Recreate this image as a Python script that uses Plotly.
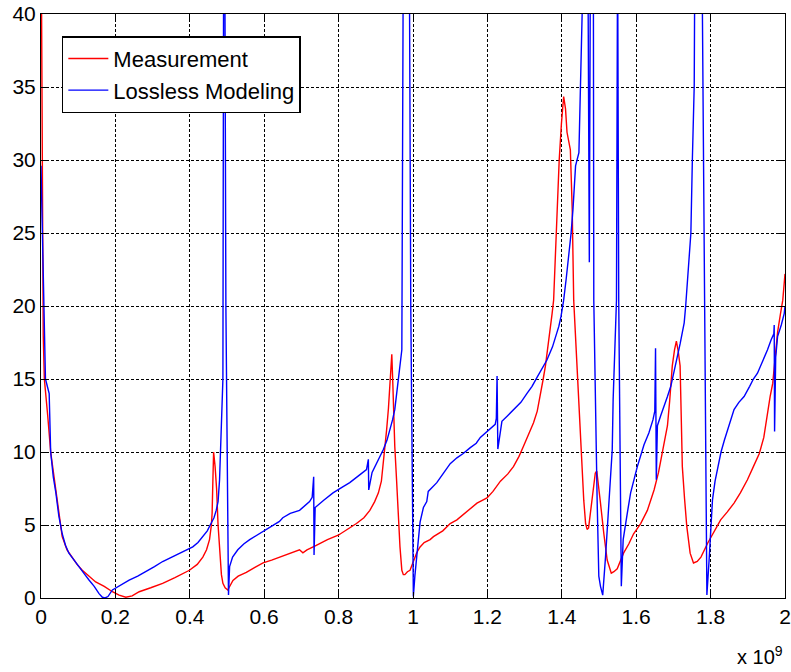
import plotly.graph_objects as go

# Frequency in units of 1e9 Hz, quantity on the y axis (dimensionless)
meas_freq = [
    0.000, 0.003, 0.006, 0.009, 0.013, 0.018, 0.026, 0.033, 0.040, 0.048,
    0.057, 0.070, 0.084, 0.097, 0.111, 0.128, 0.147, 0.170, 0.192, 0.210,
    0.228, 0.245, 0.264, 0.295, 0.327, 0.360, 0.399, 0.420, 0.435, 0.445,
    0.453, 0.458, 0.460, 0.462, 0.464, 0.468, 0.472, 0.476, 0.480, 0.485,
    0.489, 0.495, 0.502, 0.509, 0.516, 0.530, 0.552, 0.575, 0.597, 0.620,
    0.641, 0.670, 0.695, 0.704, 0.715, 0.740, 0.770, 0.799, 0.825, 0.848,
    0.868, 0.884, 0.897, 0.907, 0.915, 0.920, 0.925, 0.929, 0.934, 0.938,
    0.941, 0.943, 0.946, 0.951, 0.956, 0.960, 0.965, 0.970, 0.974, 0.978,
    0.985, 0.992, 1.000, 1.010, 1.019, 1.030, 1.046, 1.055, 1.080, 1.100,
    1.118, 1.145, 1.172, 1.199, 1.215, 1.235, 1.255, 1.270, 1.285, 1.297,
    1.310, 1.324, 1.334, 1.342, 1.350, 1.356, 1.361, 1.365, 1.369, 1.374,
    1.378, 1.383, 1.387, 1.393, 1.399, 1.405, 1.410, 1.414, 1.423, 1.428,
    1.432, 1.441, 1.450, 1.459, 1.464, 1.468, 1.472, 1.482, 1.490, 1.494,
    1.497, 1.504, 1.513, 1.522, 1.533, 1.540, 1.549, 1.566, 1.580, 1.593,
    1.612, 1.621, 1.630, 1.639, 1.648, 1.660, 1.670, 1.684, 1.690, 1.697,
    1.703, 1.708, 1.713, 1.718, 1.721, 1.724, 1.730, 1.736, 1.745, 1.754,
    1.764, 1.774, 1.792, 1.810, 1.827, 1.845, 1.863, 1.880, 1.899, 1.915,
    1.931, 1.943, 1.953, 1.960, 1.967, 1.974, 1.980, 1.988, 1.994, 2.000,
]
meas_val = [
    48.0, 30.0, 18.0, 15.0, 14.0, 12.5, 10.0, 8.6, 7.4, 5.6,
    4.2, 3.3, 2.8, 2.3, 1.9, 1.5, 1.1, 0.8, 0.43, 0.2,
    0.05, 0.15, 0.43, 0.7, 1.0, 1.4, 1.9, 2.3, 2.8, 3.3,
    4.0, 5.0, 5.8, 8.0, 10.0, 9.0, 7.5, 5.0, 3.1, 1.6,
    1.0, 0.7, 0.55, 0.9, 1.2, 1.5, 1.75, 2.1, 2.4, 2.6,
    2.8, 3.1, 3.3, 3.1, 3.3, 3.6, 4.0, 4.3, 4.7, 5.1,
    5.5, 6.0, 6.6, 7.2, 8.0, 9.2, 10.3, 11.5, 13.0, 14.5,
    16.0, 16.7, 14.5, 10.4, 8.0, 5.8, 3.5, 1.9, 1.6, 1.6,
    1.8, 1.9, 2.4, 3.1, 3.5, 3.8, 4.0, 4.2, 4.6, 5.1,
    5.35, 5.9, 6.5, 6.85, 7.3, 8.0, 8.5, 9.0, 9.7, 10.4,
    11.2, 12.0, 12.8, 13.8, 15.0, 15.9, 16.8, 17.7, 18.6, 19.5,
    20.4, 23.5, 26.6, 30.0, 32.5, 34.35, 33.5, 31.9, 30.7, 26.6,
    20.4, 15.9, 10.8, 6.7, 5.1, 4.7, 4.8, 6.7, 8.55, 8.7,
    8.1, 6.5, 4.4, 2.6, 1.7, 1.8, 2.0, 3.07, 3.7, 4.4,
    5.1, 5.6, 6.0, 6.7, 7.4, 8.6, 9.9, 11.8, 13.5, 15.9,
    17.0, 17.6, 16.9, 15.9, 12.5, 9.0, 6.8, 4.9, 3.07, 2.4,
    2.5, 2.8, 3.75, 4.6, 5.35, 5.9, 6.5, 7.2, 8.1, 9.0,
    9.9, 11.0, 12.7, 13.8, 14.7, 16.5, 18.2, 19.5, 20.4, 22.2,
]

model_freq = [
    0.000, 0.004, 0.008, 0.012, 0.018, 0.022, 0.026, 0.033, 0.040, 0.048,
    0.057, 0.066, 0.075, 0.088, 0.102, 0.115, 0.129, 0.143, 0.156, 0.165,
    0.172, 0.180, 0.192, 0.215, 0.237, 0.260, 0.282, 0.305, 0.327, 0.350,
    0.372, 0.390, 0.408, 0.422, 0.435, 0.447, 0.457, 0.465, 0.471, 0.476,
    0.480, 0.484, 0.489, 0.491, 0.494, 0.497, 0.501, 0.504, 0.507, 0.515,
    0.529, 0.545, 0.561, 0.580, 0.597, 0.620, 0.641, 0.650, 0.670, 0.695,
    0.710, 0.722, 0.729, 0.733, 0.734, 0.737, 0.760, 0.785, 0.810, 0.830,
    0.855, 0.875, 0.880, 0.881, 0.890, 0.902, 0.910, 0.920, 0.930, 0.938,
    0.945, 0.951, 0.956, 0.960, 0.965, 0.970, 0.974, 0.985, 0.990, 0.994,
    0.998, 1.001, 1.005, 1.010, 1.015, 1.019, 1.028, 1.037, 1.041, 1.064,
    1.082, 1.100, 1.118, 1.135, 1.154, 1.170, 1.181, 1.200, 1.221, 1.224,
    1.226, 1.228, 1.239, 1.255, 1.270, 1.290, 1.306, 1.320, 1.333, 1.347,
    1.360, 1.375, 1.387, 1.392, 1.398, 1.405, 1.412, 1.419, 1.425, 1.430,
    1.434, 1.437, 1.446, 1.449, 1.452, 1.455, 1.462, 1.470, 1.474, 1.477,
    1.482, 1.485, 1.486, 1.495, 1.4995, 1.504, 1.510, 1.5175, 1.526, 1.5356,
    1.538, 1.5445, 1.547, 1.550, 1.553, 1.560, 1.565, 1.576, 1.585, 1.603,
    1.612, 1.621, 1.634, 1.645, 1.650, 1.652, 1.654, 1.657, 1.666, 1.675,
    1.684, 1.693, 1.702, 1.711, 1.718, 1.724, 1.729, 1.733, 1.738, 1.747,
    1.751, 1.756, 1.757, 1.765, 1.775, 1.778, 1.784, 1.790, 1.796, 1.805,
    1.812, 1.819, 1.828, 1.837, 1.850, 1.863, 1.876, 1.890, 1.905, 1.915,
    1.926, 1.940, 1.953, 1.963, 1.970, 1.971, 1.972, 1.975, 1.980, 1.990,
    1.998, 2.000,
]
model_val = [
    29.6, 24.0, 19.0, 15.0, 14.4, 14.0, 10.0, 8.3, 7.2, 5.6,
    4.4, 3.6, 3.07, 2.6, 2.15, 1.7, 1.23, 0.8, 0.3, 0.05,
    0.0, 0.1, 0.55, 0.9, 1.23, 1.5, 1.8, 2.15, 2.5, 2.8,
    3.07, 3.3, 3.5, 3.8, 4.2, 4.6, 5.1, 5.5, 6.0, 6.6,
    8.1, 11.5, 15.0, 45.0, 45.0, 20.0, 5.0, 0.2, 2.15, 2.8,
    3.3, 3.7, 4.0, 4.3, 4.55, 4.9, 5.25, 5.5, 5.8, 6.0,
    6.3, 6.6, 6.9, 8.3, 2.95, 6.2, 6.7, 7.2, 7.6, 7.9,
    8.4, 8.8, 9.5, 7.4, 8.6, 9.2, 9.6, 10.15, 10.8, 11.5,
    12.2, 12.9, 14.0, 15.0, 16.2, 17.0, 45.0, 45.0, 45.0, 20.0,
    5.0, 0.1, 1.5, 2.8, 4.2, 5.2, 6.2, 6.6, 7.3, 7.9,
    8.55, 9.2, 9.6, 9.9, 10.3, 10.6, 11.0, 11.4, 11.9, 12.3,
    15.2, 10.2, 12.1, 12.5, 12.9, 13.4, 14.0, 14.5, 15.1, 15.7,
    16.3, 17.2, 18.2, 18.6, 19.3, 20.4, 21.9, 23.4, 25.0, 26.6,
    28.3, 29.6, 30.5, 33.5, 35.8, 40.5, 48.0, 45.0, 23.0, 45.0,
    50.0, 40.0, 20.4, 6.7, 1.5, 0.8, 0.2, 2.8, 6.3, 10.15,
    13.6, 18.2, 20.4, 45.0, 20.4, 0.8, 4.0, 5.8, 7.2, 9.0,
    9.7, 10.5, 11.3, 12.2, 12.8, 17.1, 8.1, 11.8, 12.5, 13.1,
    13.8, 14.5, 15.5, 16.6, 17.4, 18.2, 18.85, 20.0, 21.6, 25.0,
    30.05, 35.1, 40.5, 48.0, 45.0, 40.0, 20.0, 0.2, 2.6, 6.7,
    8.0, 9.0, 10.0, 10.8, 11.9, 12.9, 13.4, 13.8, 14.5, 15.0,
    15.4, 16.2, 17.0, 17.7, 18.1, 18.7, 11.4, 16.5, 17.9, 18.7,
    19.5, 20.0,
]

x_tick_vals = [0, 0.2, 0.4, 0.6, 0.8, 1.0, 1.2, 1.4, 1.6, 1.8, 2.0]
x_tick_text = ["0", "0.2", "0.4", "0.6", "0.8", "1", "1.2", "1.4", "1.6", "1.8", "2"]
y_tick_vals = [0, 5, 10, 15, 20, 25, 30, 35, 40]

FONT = "Liberation Sans, Arial, sans-serif"

fig = go.Figure()
fig.add_trace(go.Scatter(
    x=meas_freq, y=meas_val, mode="lines", name="Measurement",
    line=dict(color="#ff0000", width=1.4),
))
fig.add_trace(go.Scatter(
    x=model_freq, y=model_val, mode="lines", name="Lossless Modeling",
    line=dict(color="#0000ff", width=1.4),
))

axis_common = dict(
    showline=True, linecolor="black", linewidth=1, mirror="allticks",
    ticks="inside", ticklen=6, tickcolor="black", tickwidth=1,
    showgrid=True, gridcolor="black", gridwidth=1, griddash="3px,2px",
    zeroline=False, automargin=False,
    tickfont=dict(family=FONT, size=21, color="black"),
)

fig.update_xaxes(range=[0, 2], tickvals=x_tick_vals, ticktext=x_tick_text, **axis_common)
fig.update_yaxes(range=[0, 40], tickvals=y_tick_vals, **axis_common)

fig.update_layout(
    width=791, height=672,
    margin=dict(l=41, r=6, t=14, b=74),
    plot_bgcolor="white", paper_bgcolor="white",
    font=dict(family=FONT, size=21, color="black"),
    showlegend=True,
    legend=dict(
        x=0.028, y=0.962, xanchor="left", yanchor="top",
        bgcolor="white", bordercolor="black", borderwidth=1.5,
        font=dict(family=FONT, size=22, color="black"),
        itemwidth=40, tracegroupgap=0,
    ),
    annotations=[dict(
        text="x 10<sup>9</sup>", xref="paper", yref="paper",
        x=1.0, y=-0.098, xanchor="right", yanchor="middle",
        showarrow=False, font=dict(family=FONT, size=20, color="black"),
    )],
)

fig.write_html("out.html")
